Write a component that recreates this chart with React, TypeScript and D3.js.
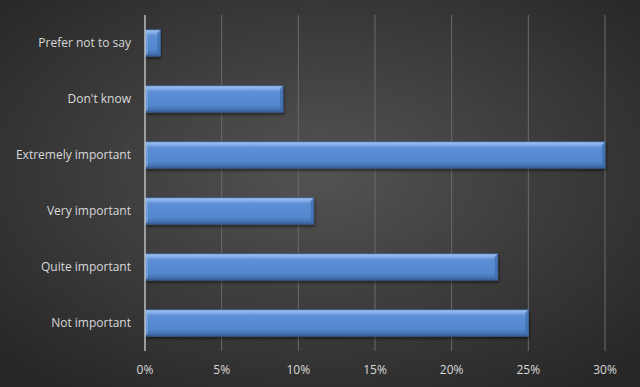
import React from "react";
import * as d3 from "d3";

const categories = ["Prefer not to say", "Don't know", "Extremely important", "Very important", "Quite important", "Not important"];
const values = [1, 9, 30, 11, 23, 25];
const ticks = [0, 5, 10, 15, 20, 25, 30];

const W = 640, H = 387;
const m = { left: 145, right: 35, top: 15, bottom: 36 };

export default function App() {
  const x = d3.scaleLinear().domain([0, 30]).range([m.left, W - m.right]);
  const y = d3.scaleBand().domain(categories).range([m.top, H - m.bottom]).paddingInner(0.53).paddingOuter(0.265);
  const font = "'Open Sans', 'Liberation Sans', sans-serif";
  return (
    <svg width={W} height={H} style={{ position: "absolute", left: 0, top: 0 }}>
      <defs>
        <radialGradient id="bg" cx="50%" cy="45%" r="70%">
          <stop offset="0%" stopColor="#535353" />
          <stop offset="100%" stopColor="#262626" />
        </radialGradient>
        <linearGradient id="bar" x1="0" y1="0" x2="0" y2="1">
          <stop offset="0%" stopColor="#a9c8f0" />
          <stop offset="12%" stopColor="#80aae6" />
          <stop offset="22%" stopColor="#5d8fd6" />
          <stop offset="75%" stopColor="#5286cd" />
          <stop offset="90%" stopColor="#4573b4" />
          <stop offset="100%" stopColor="#355d96" />
        </linearGradient>
        <filter id="sh" x="-5%" y="-20%" width="110%" height="160%">
          <feDropShadow dx="1" dy="2" stdDeviation="1.5" floodColor="#000" floodOpacity="0.5" />
        </filter>
      </defs>
      <rect width={W} height={H} fill="url(#bg)" />
      {ticks.slice(1).map((t) => (
        <line key={t} x1={x(t)} x2={x(t)} y1={m.top} y2={H - m.bottom} stroke="#6a6a6a" strokeWidth={1} />
      ))}
      {categories.map((c, i) => {
        const y0 = y(c)!;
        const bw = x(values[i]) - x(0);
        const bh = y.bandwidth();
        const b = 3;
        return (
          <g key={c}>
            <rect x={x(0)} y={y0} width={bw} height={bh} fill="url(#bar)" stroke="#3a659f" strokeWidth={0.8} filter="url(#sh)" />
            <polygon points={`${x(0) + bw - b},${y0 + b} ${x(0) + bw},${y0} ${x(0) + bw},${y0 + bh} ${x(0) + bw - b},${y0 + bh - b}`} fill="#3f6cab" opacity={0.7} />
            <polygon points={`${x(0)},${y0} ${x(0) + b},${y0 + b} ${x(0) + b},${y0 + bh - b} ${x(0)},${y0 + bh}`} fill="#8db3e8" opacity={0.5} />
            <text x={m.left - 14} y={y0 + bh / 2} dy="0.35em" textAnchor="end" fill="#d9d9d9" fontSize={12} fontFamily={font}>{c}</text>
          </g>
        );
      })}
      <line x1={x(0)} x2={x(0)} y1={m.top} y2={H - m.bottom} stroke="#bfbfbf" strokeWidth={1.5} />
      {ticks.map((t) => (
        <text key={t} x={x(t)} y={374} textAnchor="middle" fill="#d9d9d9" fontSize={12} fontFamily={font}>{t}%</text>
      ))}
    </svg>
  );
}
